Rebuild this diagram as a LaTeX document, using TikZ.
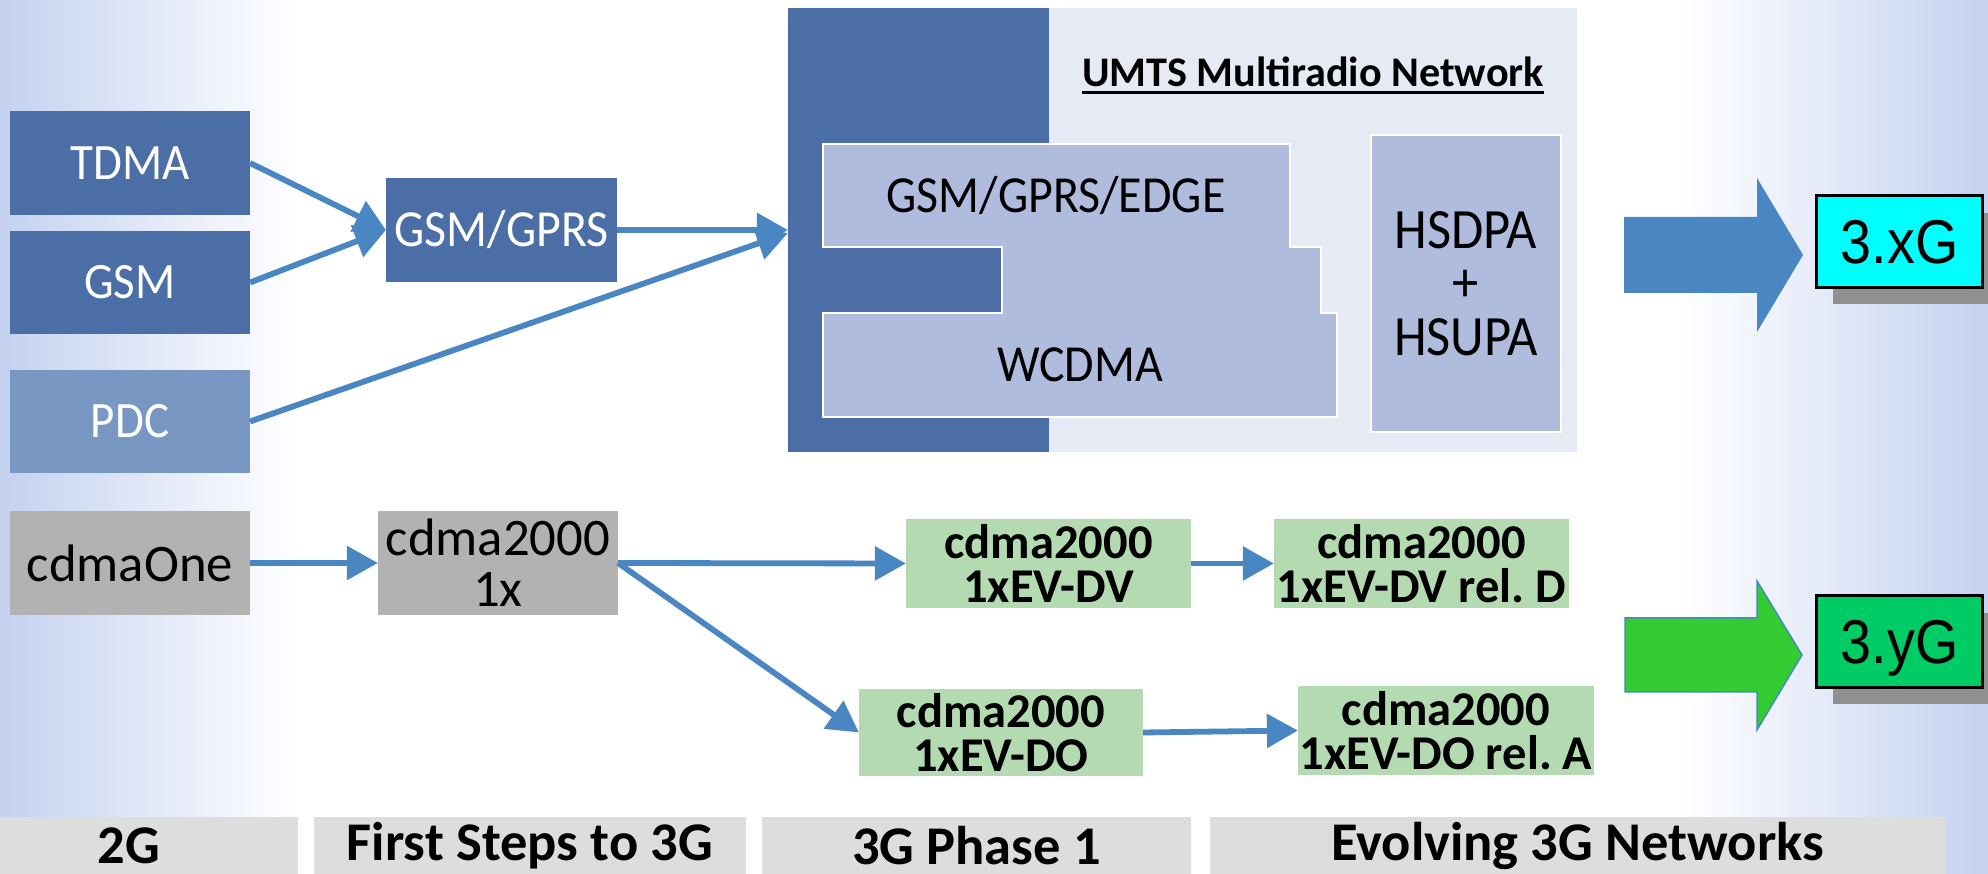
\documentclass[tikz,border=0pt]{standalone}
\usepackage{fontspec}
\setmainfont{Carlito}
\newfontfamily\condfont[FakeStretch=0.92]{Carlito}
\newfontfamily\arialfont[FakeStretch=0.9]{Liberation Sans}
\usetikzlibrary{arrows.meta,shadows}
\definecolor{darkblue}{RGB}{74,110,165}
\definecolor{pdcblue}{RGB}{120,151,195}
\definecolor{umtslight}{RGB}{230,234,245}
\definecolor{innerblue}{RGB}{175,188,222}
\definecolor{arrowblue}{RGB}{74,134,194}
\definecolor{greybox}{RGB}{178,178,178}
\definecolor{greenbox}{RGB}{179,218,176}
\definecolor{labelgrey}{RGB}{221,221,221}
\definecolor{cyanbox}{RGB}{0,255,255}
\definecolor{greenG}{RGB}{0,204,102}
\definecolor{greenarrow}{RGB}{51,204,51}
\definecolor{shadowgrey}{RGB}{144,144,144}
\definecolor{bgblue}{RGB}{196,210,240}
\frenchspacing
\begin{document}
\begin{tikzpicture}[x=0.01cm,y=-0.01cm,
  every node/.style={inner sep=0pt, outer sep=0pt},
  bluebox/.style={rectangle, fill=darkblue, text=white,
    font=\condfont\fontsize{14.5pt}{17pt}\selectfont},
  innertext/.style={font=\condfont\fontsize{14.8pt}{14.8pt}\selectfont, text=black, align=center},
  greyboxst/.style={rectangle, fill=greybox, text=black, align=center,
    font=\fontsize{15pt}{14.5pt}\selectfont},
  greenboxst/.style={rectangle, fill=greenbox, text=black, align=center,
    font=\bfseries\fontsize{13.8pt}{12.6pt}\selectfont},
  phasebox/.style={rectangle, fill=labelgrey, text=black,
    font=\bfseries\fontsize{15.5pt}{18pt}\selectfont, minimum height=0.57cm},
  gbox/.style={rectangle, draw=black, line width=0.03cm, text=black, text depth=0pt,
    font=\arialfont\fontsize{17.6pt}{20pt}\selectfont,
    minimum width=1.65cm, minimum height=0.91cm,
    drop shadow={shadow xshift=0.16cm, shadow yshift=-0.17cm, fill=shadowgrey, opacity=1}},
  conn/.style={draw=arrowblue, line width=0.058cm, -{Triangle[length=0.31cm,width=0.33cm]}},
]
\useasboundingbox (0,0) rectangle (1988,874);
\clip (0,0) rectangle (1988,874);
% background
\fill[white] (0,0) rectangle (1988,874);
\shade[left color=bgblue, right color=white] (0,0) rectangle (300,874);
\shade[left color=white, right color=bgblue] (1680,0) rectangle (1988,874);

% left column
\node[bluebox, minimum width=2.40cm, minimum height=1.04cm] (tdma) at (130,163) {TDMA};
\node[bluebox, minimum width=2.40cm, minimum height=1.03cm] (gsm) at (130,282.5) {GSM};
\node[bluebox, fill=pdcblue, minimum width=2.40cm, minimum height=1.03cm] (pdc) at (130,421.5) {PDC};
\node[bluebox, font=\condfont\fontsize{14.8pt}{17pt}\selectfont, minimum width=2.31cm, minimum height=1.04cm] (gsmgprs) at (501.5,230) {GSM/GPRS};

% UMTS block
\node[rectangle, fill=umtslight, minimum width=7.89cm, minimum height=4.44cm] (umtsbg) at (1182.5,230) {};
\node[rectangle, fill=darkblue, minimum width=2.61cm, minimum height=4.44cm] (umtsdark) at (918.5,230) {};
\node[font=\bfseries\fontsize{12pt}{14pt}\selectfont, anchor=base] (title) at (1313,87) {UMTS Multiradio Network};
\draw[line width=0.035cm] ([yshift=-0.055cm]title.base west) -- ([yshift=-0.055cm]title.base east);
\filldraw[fill=innerblue, draw=white, line width=0.025cm]
  (823,144) -- (1290,144) -- (1290,247) -- (1321,247) -- (1321,313) -- (1337,313)
  -- (1337,417) -- (823,417) -- (823,313) -- (1002,313) -- (1002,247) -- (823,247) -- cycle;
\node[innertext] (edge) at (1056,195.5) {GSM/GPRS/EDGE};
\node[innertext] (wcdma) at (1080,365) {WCDMA};
\node[rectangle, fill=innerblue, draw=white, line width=0.025cm, innertext,
  font=\condfont\fontsize{16.2pt}{15.2pt}\selectfont,
  minimum width=1.90cm, minimum height=2.97cm] (hspa) at (1466,283.5) {HSDPA\\+\\HSUPA};

% big arrows and 3.xG / 3.yG
\fill[arrowblue] (1624,217) -- (1757,217) -- (1757,178) -- (1803,255) -- (1757,332) -- (1757,293) -- (1624,293) -- cycle;
\filldraw[fill=greenarrow, draw=arrowblue, line width=0.015cm]
  (1625,618) -- (1757,618) -- (1757,581) -- (1802,655) -- (1757,730) -- (1757,692) -- (1625,692) -- cycle;
\node[gbox, fill=cyanbox] (xg) at (1899.5,241.5) {3.xG};
\node[gbox, fill=greenG] (yg) at (1899.5,641.5) {3.yG};

% cdma row
\node[greyboxst, minimum width=2.40cm, minimum height=1.04cm] (cdmaone) at (130,563) {cdmaOne};
\node[greyboxst, minimum width=2.40cm, minimum height=1.04cm] (cdma1x) at (498,563) {cdma2000\\1x};
\node[greenboxst, minimum width=2.85cm, minimum height=0.89cm] (evdv) at (1048.5,563.5) {cdma2000\\1xEV-DV};
\node[greenboxst, minimum width=2.95cm, minimum height=0.89cm] (reld) at (1421.5,563.5) {cdma2000\\1xEV-DV rel. D};
\node[greenboxst, minimum width=2.84cm, minimum height=0.87cm] (evdo) at (1001,732.5) {cdma2000\\1xEV-DO};
\node[greenboxst, minimum width=2.96cm, minimum height=0.89cm] (rela) at (1446,730.5) {cdma2000\\1xEV-DO rel. A};

% phase labels
\node[phasebox, minimum width=3.38cm] (p2g) at (129,845.5) {2G};
\node[phasebox, minimum width=4.32cm] (pfirst) at (530,845.5) {First Steps to 3G};
\node[phasebox, minimum width=4.29cm] (pphase) at (976.5,845.5) {3G Phase 1};
\node[phasebox, minimum width=7.35cm] (pevol) at (1577.5,845.5) {Evolving 3G Networks};

% connectors
\draw[conn] (tdma.east) -- (gsmgprs.west);
\draw[conn] (gsm.east) -- (gsmgprs.west);
\draw[conn] (gsmgprs.east) -- (umtsdark.west);
\draw[conn] (pdc.east) -- ([yshift=-0.03cm]umtsdark.west);
\draw[conn] (cdmaone.east) -- (cdma1x.west);
\draw[conn] (cdma1x.east) -- (evdv.west);
\draw[conn] (cdma1x.east) -- (evdo.west);
\draw[conn] (evdv.east) -- (reld.west);
\draw[conn] (evdo.east) -- (rela.west);
\end{tikzpicture}
\end{document}
